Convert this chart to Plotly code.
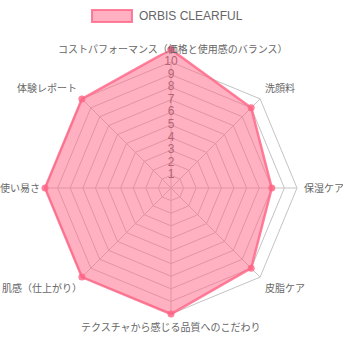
import math
import plotly.graph_objects as go

categories = [
    "コストパフォーマンス（価格と使用感のバランス）",
    "洗顔料",
    "保湿ケア",
    "皮脂ケア",
    "テクスチャから感じる品質へのこだわり",
    "肌感（仕上がり）",
    "使い易さ",
    "体験レポート",
]
values = [11, 9, 8, 9, 10, 10, 10, 10]
series_name = "ORBIS CLEARFUL"
tick_values = [1, 2, 3, 4, 5, 6, 7, 8, 9, 10]
scale_max = 10
range_max = 11

W = H = 343
cx, cy = 171, 188          # centre of the radar, px
r_unit = 12.6              # px per unit
R_range = r_unit * range_max
label_r = r_unit * scale_max + 6

FONT = "Liberation Sans, Noto Sans CJK JP, sans-serif"
FILL = "rgba(255,99,132,0.5)"
LINE = "rgba(255,99,132,0.8)"

fig = go.Figure()

# spokes (angle lines) from 0 to the scale maximum
spoke_r, spoke_t = [], []
for c in categories:
    spoke_r += [0, scale_max, None]
    spoke_t += [c, c, None]
fig.add_trace(go.Scatterpolar(
    r=spoke_r, theta=spoke_t, mode="lines",
    line=dict(color="#c4c4c4", width=1), showlegend=False, hoverinfo="skip",
))

# radial tick labels (drawn beneath the fill)
fig.add_trace(go.Scatterpolar(
    r=tick_values, theta=[categories[0]] * len(tick_values), mode="text",
    text=[str(v) for v in tick_values], textposition="middle center",
    textfont=dict(family=FONT, size=12, color="#666666"),
    showlegend=False, hoverinfo="skip", cliponaxis=False,
))

# data series
fig.add_trace(go.Scatterpolar(
    r=values + [values[0]], theta=categories + [categories[0]],
    mode="lines+markers", fill="toself",
    fillcolor=FILL,
    line=dict(color=LINE, width=2.5),
    marker=dict(color=LINE, size=7),
    name=series_name, showlegend=False, cliponaxis=False,
))

annotations = []
for i, c in enumerate(categories):
    a = 2 * math.pi * i / len(categories)
    s, co = math.sin(a), math.cos(a)
    px = cx + label_r * s
    py = cy - label_r * co
    xa = "left" if s > 0.01 else ("right" if s < -0.01 else "center")
    ya = "bottom" if co > 0.01 else ("top" if co < -0.01 else "middle")
    shift = 0
    if c.endswith("）"):
        # compensate the blank right half of a trailing full-width bracket
        shift = 5 if xa == "right" else (2 if xa == "center" else 0)
    elif xa == "right" and ya == "middle":
        # keep the leftmost label inside the canvas
        shift = 2
    annotations.append(dict(
        x=px / W, y=1 - py / H, xref="paper", yref="paper",
        text=c, showarrow=False, xanchor=xa, yanchor=ya, xshift=shift,
        font=dict(family=FONT, size=10, color="#666666"), borderpad=0,
    ))

# legend (box + label), Chart.js style
lg_x0, lg_y0, lg_w, lg_h = 92, 10, 40, 12
annotations.append(dict(
    x=(lg_x0 + lg_w + 6) / W, y=1 - (lg_y0 + lg_h / 2) / H,
    xref="paper", yref="paper", text=series_name, showarrow=False,
    xanchor="left", yanchor="middle",
    font=dict(family=FONT, size=12, color="#666666"), borderpad=0,
))
shapes = [dict(
    type="rect", xref="paper", yref="paper",
    x0=lg_x0 / W, x1=(lg_x0 + lg_w) / W,
    y0=1 - (lg_y0 + lg_h) / H, y1=1 - lg_y0 / H,
    fillcolor=FILL, line=dict(color=LINE, width=2),
)]

fig.update_layout(
    width=W, height=H,
    margin=dict(l=0, r=0, t=0, b=0),
    paper_bgcolor="white",
    font=dict(family=FONT, color="#666666"),
    showlegend=False,
    annotations=annotations,
    shapes=shapes,
    polar=dict(
        domain=dict(x=[(cx - R_range) / W, (cx + R_range) / W],
                    y=[1 - (cy + R_range) / H, 1 - (cy - R_range) / H]),
        bgcolor="rgba(0,0,0,0)",
        gridshape="linear",
        radialaxis=dict(range=[0, range_max], tickvals=tick_values,
                        showticklabels=False, ticks="", showline=False,
                        gridcolor="#c4c4c4", gridwidth=1),
        angularaxis=dict(direction="clockwise", rotation=90,
                         showticklabels=False, ticks="", showline=False,
                         showgrid=False),
    ),
)

fig.write_html("out.html")
